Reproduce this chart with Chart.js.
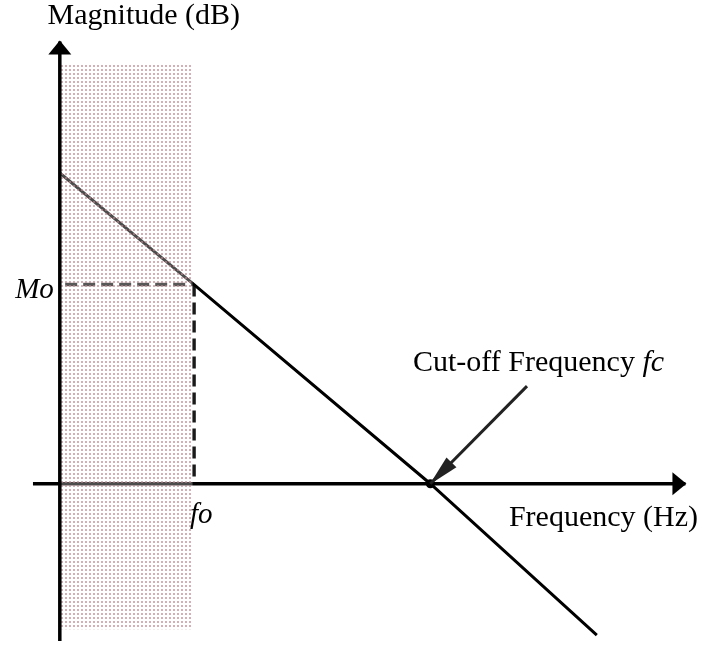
<!DOCTYPE html>
<html>
<head>
<meta charset="utf-8">
<script src="https://cdn.jsdelivr.net/npm/chart.js@4/dist/chart.umd.min.js"></script>
<style>
html,body{margin:0;padding:0;background:#fff;}
#wrap{width:702px;height:649px;}
</style>
</head>
<body>
<div id="wrap"><canvas id="c" width="702" height="649"></canvas></div>
<script>
// ---- data (arbitrary schematic units: fo = 1, Mo = 1) ----
const responseX = [0, 1, 2.76, 4];
const responseY = [1.56, 1, 0, -0.76];
const foX = 1, moY = 1, fcX = 2.76;
const xAxisX = [-0.2, 4.66];
const yAxisY = [-0.79, 2.22];
const shadeX = [0, 0.99];
const shadeTopY = 2.11, shadeBottomY = -0.73;
const pointerX = [3.48, fcX];
const pointerY = [0.49, 0];
const labels = {
  yTitle: 'Magnitude (dB)',
  xTitle: 'Frequency (Hz)',
  mo: 'Mo',
  fo: 'fo',
  cutoff: 'Cut-off Frequency ',
  fc: 'fc'
};

function pts(xs, ys){ return xs.map((x,i)=>({x:x, y:ys[i]})); }

// dotted shading pattern
function makePattern(){
  const t = document.createElement('canvas');
  t.width = 4; t.height = 4;
  const g = t.getContext('2d');
  g.fillStyle = 'rgba(255,255,255,0.3)';
  g.fillRect(0,0,4,4);
  g.clearRect(1,1,2,2);
  g.fillStyle = 'rgba(196,150,158,0.75)';
  g.fillRect(1,1,2,2);
  return document.getElementById('c').getContext('2d').createPattern(t,'repeat');
}
const pattern = makePattern();

const lineDefaults = {showLine:true, pointRadius:0, tension:0, fill:false, borderCapStyle:'butt'};

const datasets = [
  // 0 response line
  Object.assign({}, lineDefaults, {data: pts(responseX, responseY), borderColor:'#000', borderWidth:3, order:3}),
  // 1 x axis
  Object.assign({}, lineDefaults, {data: pts(xAxisX, [0,0]), borderColor:'#000', borderWidth:3.5, order:3, arrow:true}),
  // 2 dashed horizontal at Mo
  Object.assign({}, lineDefaults, {data: pts([0.04, foX], [moY, moY]), borderColor:'#111', borderWidth:3.5, borderDash:[12,6], order:3}),
  // 3 dashed vertical at fo
  Object.assign({}, lineDefaults, {data: pts([foX, foX], [moY, 0]), borderColor:'#1a1a1a', borderWidth:3.5, borderDash:[12,6], order:3}),
  // 4 shade top (filled to 5)
  Object.assign({}, lineDefaults, {data: pts(shadeX, [shadeTopY, shadeTopY]), borderWidth:0, borderColor:'rgba(0,0,0,0)', backgroundColor:pattern, fill:{target:5}, order:2}),
  // 5 shade bottom
  Object.assign({}, lineDefaults, {data: pts(shadeX, [shadeBottomY, shadeBottomY]), borderWidth:0, borderColor:'rgba(0,0,0,0)', order:2}),
  // 6 y axis
  Object.assign({}, lineDefaults, {data: pts([0,0], yAxisY), borderColor:'#000', borderWidth:3.5, order:1, arrow:true}),
  // 7 pointer arrow to fc
  Object.assign({}, lineDefaults, {data: pts(pointerX, pointerY), borderColor:'#222', borderWidth:3, order:0, arrow:true, arrowLen:30, arrowHalf:7}),
  // 8 cut-off dot
  {data: pts([fcX],[0]), showLine:false, pointRadius:4.5, pointBackgroundColor:'#000', pointBorderColor:'#000', borderWidth:0, order:0}
];

const arrowPlugin = {
  id:'arrows',
  afterDatasetsDraw(chart){
    const ctx = chart.ctx;
    chart.data.datasets.forEach((ds,i)=>{
      if(!ds.arrow) return;
      const meta = chart.getDatasetMeta(i);
      const n = meta.data.length;
      const a = meta.data[n-2], b = meta.data[n-1];
      const ang = Math.atan2(b.y - a.y, b.x - a.x);
      const L = ds.arrowLen || 13, H = ds.arrowHalf || 11.5;
      ctx.save();
      ctx.translate(b.x, b.y);
      ctx.rotate(ang);
      ctx.beginPath();
      ctx.moveTo(1,0);
      ctx.lineTo(-L,-H);
      ctx.lineTo(-L,H);
      ctx.closePath();
      ctx.fillStyle = ds.borderColor;
      ctx.fill();
      ctx.restore();
    });
  }
};

const textPlugin = {
  id:'texts',
  afterDraw(chart){
    const ctx = chart.ctx;
    const xs = chart.scales.x, ys = chart.scales.y;
    const x0 = xs.getPixelForValue(0), y0 = ys.getPixelForValue(0);
    const F = '"Liberation Serif","Times New Roman",serif';
    ctx.save();
    ctx.fillStyle = '#000';
    ctx.textBaseline = 'alphabetic';
    // y title
    ctx.font = '30px ' + F;
    ctx.textAlign = 'center';
    ctx.fillText(labels.yTitle, x0 + 84, 24);
    // x title
    ctx.textAlign = 'right';
    ctx.fillText(labels.xTitle, 698, y0 + 42);
    // Mo
    ctx.font = 'italic 29px ' + F;
    ctx.textAlign = 'right';
    ctx.fillText(labels.mo, x0 - 6, ys.getPixelForValue(moY) + 13);
    // fo
    ctx.textAlign = 'left';
    ctx.fillText(labels.fo, xs.getPixelForValue(foX) - 4, y0 + 39);
    // Cut-off Frequency fc
    ctx.font = '30px ' + F;
    ctx.textAlign = 'left';
    const tx = 413, ty = 371;
    ctx.fillText(labels.cutoff, tx, ty);
    const w = ctx.measureText(labels.cutoff).width;
    ctx.font = 'italic 30px ' + F;
    ctx.fillText(labels.fc, tx + w, ty);
    ctx.restore();
  }
};

new Chart(document.getElementById('c'), {
  type:'scatter',
  data:{datasets},
  options:{
    responsive:false,
    animation:false,
    layout:{padding:0},
    plugins:{legend:{display:false}, tooltip:{enabled:false}},
    scales:{
      x:{type:'linear', min:-0.412, max:4.75, display:false},
      y:{type:'linear', min:-0.807, max:2.406, display:false}
    }
  },
  plugins:[arrowPlugin, textPlugin]
});
</script>
</body>
</html>
